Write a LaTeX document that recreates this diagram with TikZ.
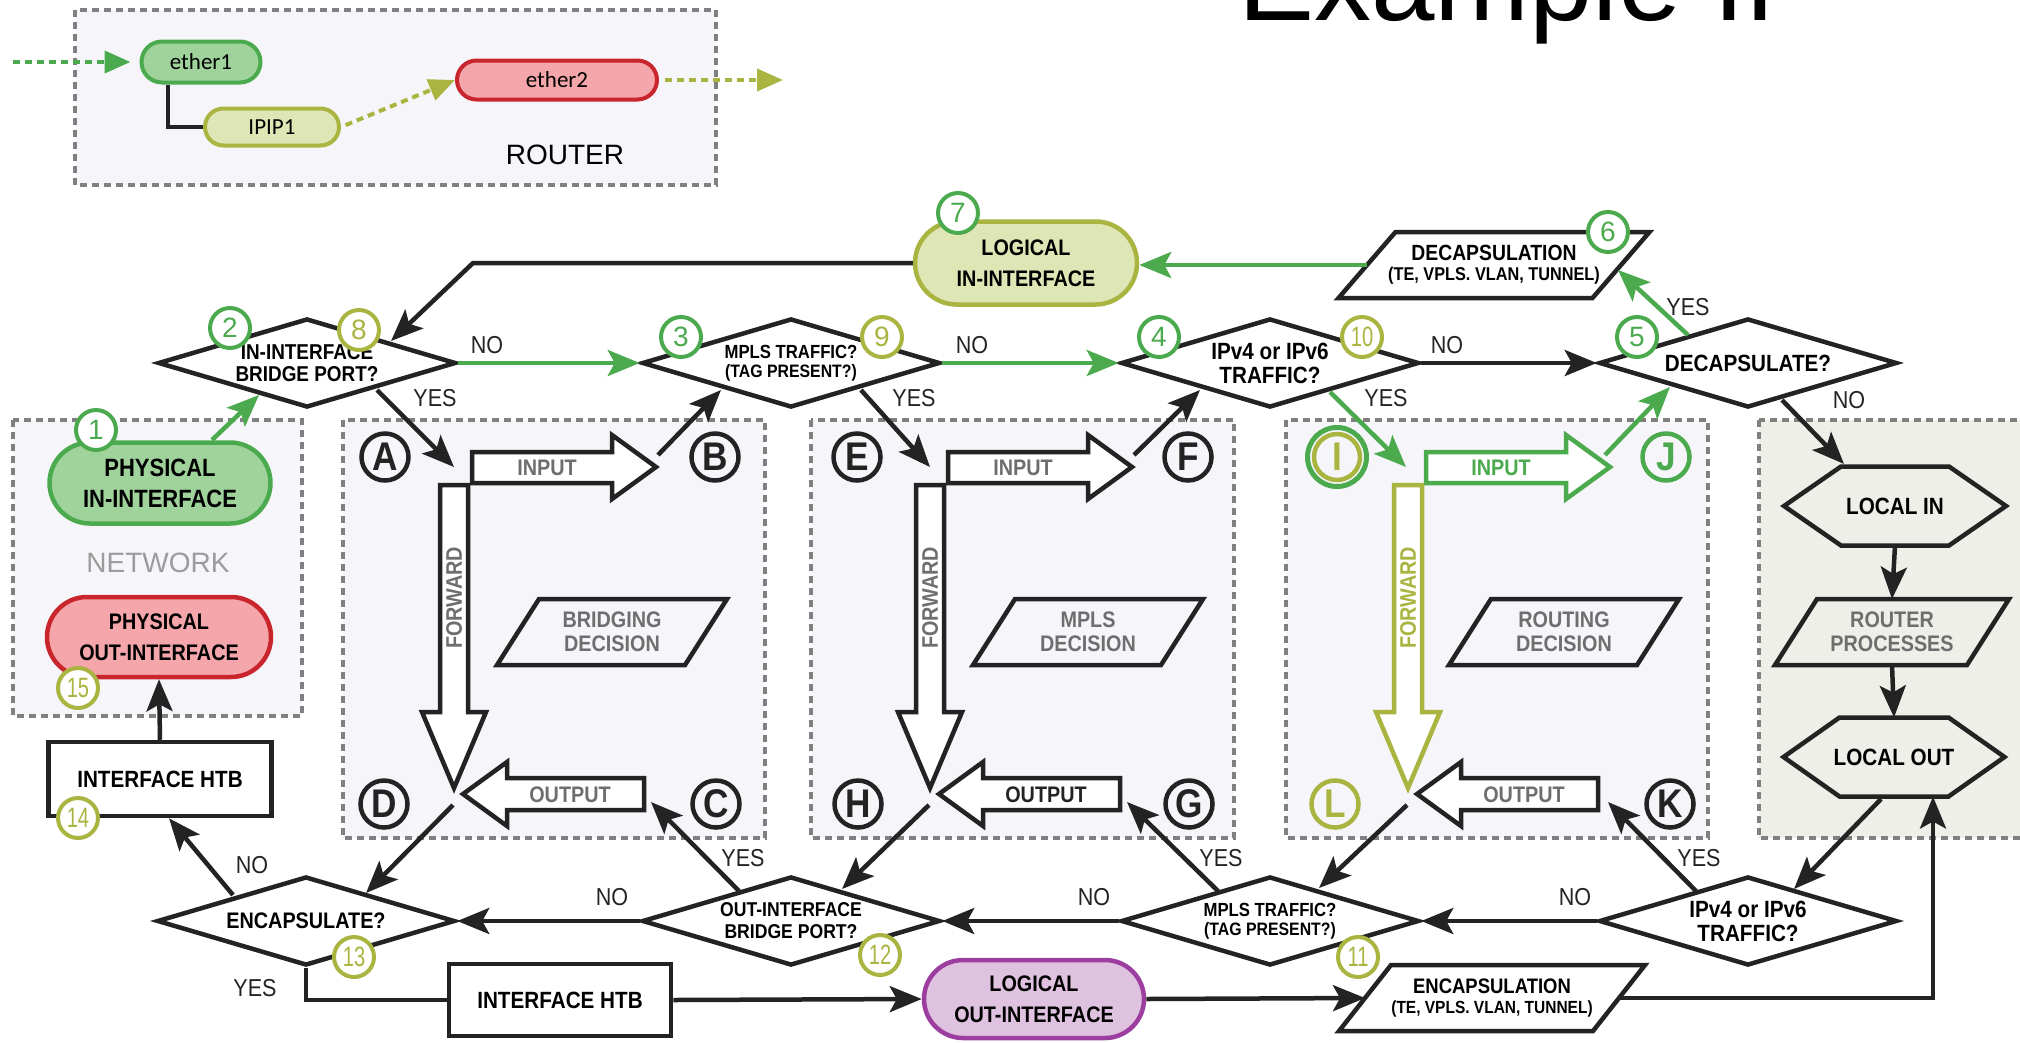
\documentclass[tikz,border=0pt]{standalone}
\usepackage{fontspec}
\setmainfont{Liberation Sans}[FakeStretch=0.88]
\newfontfamily\widefont{Liberation Sans}
\newfontfamily\legendfont{Carlito}
\usetikzlibrary{arrows.meta,calc,shapes.geometric,shapes.misc}

\definecolor{ink}{RGB}{35,35,35}
\definecolor{flowgreen}{RGB}{76,170,78}
\definecolor{flowolive}{RGB}{170,180,64}
\definecolor{greenfill}{RGB}{160,211,156}
\definecolor{olivefill}{RGB}{223,230,182}
\definecolor{redline}{RGB}{200,37,44}
\definecolor{redfill}{RGB}{244,166,170}
\definecolor{purpleline}{RGB}{156,62,160}
\definecolor{purplefill}{RGB}{222,194,223}
\definecolor{panelfill}{RGB}{246,246,250}
\definecolor{localfill}{RGB}{238,239,233}
\definecolor{dashgrey}{RGB}{128,128,128}
\definecolor{labelgrey}{RGB}{110,110,110}
\definecolor{netgrey}{RGB}{155,155,155}

\tikzset{
  inkline/.style={line width=4.5pt, draw=ink},
  flow/.style={line width=4.5pt, draw=ink, -{Stealth[length=32pt,width=26pt,inset=7pt]}},
  gflow/.style={flow, draw=flowgreen},
  gdot/.style={line width=4pt, draw=flowgreen, dash pattern=on 7pt off 5pt, -{Triangle[length=26pt,width=22pt]}},
  odot/.style={line width=4pt, draw=flowolive, dash pattern=on 7pt off 5pt, -{Triangle[length=26pt,width=22pt]}},
  panel/.style={line width=4pt, draw=dashgrey, dash pattern=on 7pt off 5pt, fill=panelfill},
  dia/.style={diamond, aspect=3.3, draw=ink, line width=4.5pt, fill=white,
    minimum width=298pt, minimum height=89pt, inner sep=0pt, align=center,
    font=\bfseries\fontsize{21.5}{22}\selectfont},
  pill/.style={rounded rectangle, line width=4.5pt, align=center, inner sep=0pt,
    font=\bfseries\fontsize{22.5}{31}\selectfont},
  boxnode/.style={rectangle, draw=ink, line width=4.5pt, fill=white, inner sep=0pt,
    font=\bfseries\fontsize{23.5}{23.5}\selectfont},
  helper/.style={rectangle, inner sep=0pt, outer sep=0pt, align=center},
  blockarrow/.style={line width=4.5pt, draw=#1, fill=white, line join=miter},
  blockarrow/.default=ink,
  arrowtext/.style={font=\bfseries\fontsize{22.5}{22.5}\selectfont},
  dectext/.style={helper, text=labelgrey, font=\bfseries\fontsize{22.5}{24}\selectfont},
  lbadge/.style={circle, draw=#1, text=#1, line width=4.5pt, minimum size=47pt,
    inner sep=0pt, font=\bfseries\fontsize{40}{40}\selectfont},
  nbadge/.style={circle, draw=#1, text=#1, fill=white, line width=4pt,
    minimum size=40pt, inner sep=0pt, font=\widefont\fontsize{28}{28}\selectfont},
  yn/.style={font=\fontsize{24.5}{24.5}\selectfont, text=ink, inner sep=0pt},
}

% slanted box around a helper node: #1 node name, #2 slant
\newcommand\drawpgram[2]{\draw[line width=4.5pt, draw=ink]
  ($(#1.north west)+(#2/2,0)$) -- ($(#1.north east)+(#2/2,0)$) --
  ($(#1.south east)+(-#2/2,0)$) -- ($(#1.south west)+(-#2/2,0)$) -- cycle;}
% hexagon around a helper node: #1 node name, #2 corner inset
\newcommand\drawhex[2]{\draw[line width=4.5pt, draw=ink]
  (#1.west) -- ($(#1.north west)+(#2,0)$) -- ($(#1.north east)+(-#2,0)$) --
  (#1.east) -- ($(#1.south east)+(-#2,0)$) -- ($(#1.south west)+(#2,0)$) -- cycle;}

\begin{document}
\begin{tikzpicture}[x=1pt,y=-1pt]
\useasboundingbox (0,0) rectangle (2020,1042);
\clip (0,0) rectangle (2020,1042);

% ---------- title ----------
\node[anchor=base west, inner sep=0pt, font=\widefont\fontsize{114}{114}\selectfont] (title) at (1238,20) {Example II};

% ---------- legend ----------
\draw[panel] (75,10) rectangle (716,185);
\node[pill, draw=flowgreen, fill=greenfill, minimum width=119pt, minimum height=41pt, line width=4pt,
  font=\legendfont\fontsize{23}{23}\selectfont] (ether1) at (201,62) {ether1};
\node[pill, draw=flowolive, fill=olivefill, minimum width=134pt, minimum height=37pt, line width=4pt,
  font=\legendfont\fontsize{23}{23}\selectfont] (ipip) at (272,127) {IPIP1};
\node[pill, draw=redline, fill=redfill, minimum width=200pt, minimum height=39pt, line width=4pt,
  font=\legendfont\fontsize{23}{23}\selectfont] (ether2) at (557,80) {ether2};
\node[font=\widefont\fontsize{28}{28}\selectfont] (routerlbl) at (565,155) {ROUTER};
\coordinate (lgin) at (13,62);
\coordinate (lgout) at (783,80);
\draw[gdot, shorten >=9pt] (lgin) -- (ether1.west);
\draw[inkline, line width=4pt] ($(ether1.south)+(-33,0)$) |- (ipip.west);
\draw[odot, shorten <=5pt] (ipip.east) -- (ether2.west);
\draw[odot, shorten <=6pt] (ether2.east) -- (lgout);

% ---------- dashed regions ----------
\draw[panel] (13,420) rectangle (302,716);
\draw[panel] (343,420) rectangle (765,838);
\draw[panel] (811,420) rectangle (1234,838);
\draw[panel] (1286,420) rectangle (1708,838);
\draw[panel, fill=localfill] (1759,420) rectangle (2040,838);
\node[font=\widefont\fontsize{28}{28}\selectfont, text=netgrey] (netlbl) at (158,563) {NETWORK};

% ---------- bridging region ----------
\draw[blockarrow] (472,452) -- (612,452) -- (612,435) -- (656,467) -- (612,499) -- (612,483) -- (472,483) -- cycle;
\node[arrowtext, text=labelgrey] (inA) at (547,468) {INPUT};
\draw[blockarrow] (440,485) -- (468,485) -- (468,712) -- (486,712) -- (454,788) -- (422,712) -- (440,712) -- cycle;
\node[arrowtext, text=labelgrey, rotate=90] (fwA) at (454,598) {FORWARD};
\draw[blockarrow] (644,778) -- (507,778) -- (507,762) -- (463,794) -- (507,826) -- (507,810) -- (644,810) -- cycle;
\node[arrowtext, text=labelgrey] (outA) at (570,795) {OUTPUT};
\node[dectext, minimum width=188pt, minimum height=66pt] (bdec) at (612,632) {BRIDGING\\DECISION};
\drawpgram{bdec}{42}
\coordinate (ptA) at (454,467);
\coordinate (ptB) at (658,455);
\coordinate (ptD) at (453,805);
\coordinate (ptC) at (651,802);
\node[lbadge=ink] (bA) at (385,457) {A};
\node[lbadge=ink] (bB) at (715,457) {B};
\node[lbadge=ink] (bD) at (384,804) {D};
\node[lbadge=ink] (bC) at (716,804) {C};

% ---------- MPLS region ----------
\begin{scope}[shift={(476,0)}]
\draw[blockarrow] (472,452) -- (612,452) -- (612,435) -- (656,467) -- (612,499) -- (612,483) -- (472,483) -- cycle;
\node[arrowtext, text=labelgrey] (inM) at (547,468) {INPUT};
\draw[blockarrow] (440,485) -- (468,485) -- (468,712) -- (486,712) -- (454,788) -- (422,712) -- (440,712) -- cycle;
\node[arrowtext, text=labelgrey, rotate=90] (fwM) at (454,598) {FORWARD};
\draw[blockarrow] (644,778) -- (507,778) -- (507,762) -- (463,794) -- (507,826) -- (507,810) -- (644,810) -- cycle;
\node[arrowtext, text=ink] (outM) at (570,795) {OUTPUT};
\node[dectext, minimum width=188pt, minimum height=66pt] (mdec) at (612,632) {MPLS\\DECISION};
\drawpgram{mdec}{42}
\coordinate (ptE) at (454,467);
\coordinate (ptF) at (658,455);
\coordinate (ptH) at (453,805);
\coordinate (ptG) at (651,802);
\end{scope}
\node[lbadge=ink] (bE) at (857,457) {E};
\node[lbadge=ink] (bF) at (1188,457) {F};
\node[lbadge=ink] (bH) at (858,804) {H};
\node[lbadge=ink] (bG) at (1189,804) {G};

% ---------- routing region ----------
\begin{scope}[shift={(954,0)}]
\draw[blockarrow=flowgreen] (472,452) -- (612,452) -- (612,435) -- (656,467) -- (612,499) -- (612,483) -- (472,483) -- cycle;
\node[arrowtext, text=flowgreen] (inR) at (547,468) {INPUT};
\draw[blockarrow=flowolive] (440,485) -- (468,485) -- (468,712) -- (486,712) -- (454,788) -- (422,712) -- (440,712) -- cycle;
\node[arrowtext, text=flowolive, rotate=90] (fwR) at (454,598) {FORWARD};
\draw[blockarrow] (644,778) -- (507,778) -- (507,762) -- (463,794) -- (507,826) -- (507,810) -- (644,810) -- cycle;
\node[arrowtext, text=labelgrey] (outR) at (570,795) {OUTPUT};
\node[dectext, minimum width=188pt, minimum height=66pt] (rdec) at (610,632) {ROUTING\\DECISION};
\drawpgram{rdec}{42}
\coordinate (ptI) at (452,467);
\coordinate (ptJ) at (651,455);
\coordinate (ptL) at (453,805);
\coordinate (ptK) at (654,802);
\end{scope}
\node[circle, draw=flowgreen, line width=5pt, minimum size=59pt, inner sep=0pt] (bIring) at (1337,457) {};
\node[lbadge=flowolive, minimum size=46pt] (bI) at (1337,457) {I};
\node[lbadge=flowgreen] (bJ) at (1666,457) {J};
\node[lbadge=flowolive] (bL) at (1335,804) {L};
\node[lbadge=ink] (bK) at (1670,804) {K};

% ---------- local process column ----------
\node[helper, minimum width=222pt, minimum height=79pt, font=\bfseries\fontsize{23.5}{23.5}\selectfont] (localin) at (1895,506) {LOCAL IN};
\drawhex{localin}{57}
\node[dectext, minimum width=192pt, minimum height=66pt] (routerproc) at (1892,632) {ROUTER\\PROCESSES};
\drawpgram{routerproc}{42}
\node[helper, minimum width=221pt, minimum height=79pt, font=\bfseries\fontsize{23.5}{23.5}\selectfont] (localout) at (1894,757) {LOCAL OUT};
\drawhex{localout}{56}

% ---------- network interfaces ----------
\node[pill, draw=flowgreen, fill=greenfill, minimum width=221pt, minimum height=81pt,
  font=\bfseries\fontsize{25}{31}\selectfont] (phyin) at (160,483) {PHYSICAL\\IN-INTERFACE};
\node[pill, draw=redline, fill=redfill, minimum width=224pt, minimum height=80pt] (phyout) at (159,637) {PHYSICAL\\OUT-INTERFACE};
\node[boxnode, minimum width=223pt, minimum height=74pt] (htbL) at (160,779) {INTERFACE HTB};
\node[boxnode, minimum width=222pt, minimum height=72pt] (htbB) at (560,1000) {INTERFACE HTB};
\node[pill, draw=flowolive, fill=olivefill, minimum width=222pt, minimum height=83pt] (logicin) at (1026,263) {LOGICAL\\IN-INTERFACE};
\node[pill, draw=purpleline, fill=purplefill, minimum width=220pt, minimum height=78pt] (logout) at (1034,999) {LOGICAL\\OUT-INTERFACE};

\node[helper, minimum width=254pt, minimum height=66pt, font=\bfseries\fontsize{22}{23}\selectfont] (decap) at (1494,265)
  {DECAPSULATION\\[-3pt]{\fontsize{18.5}{19}\selectfont(TE, VPLS. VLAN, TUNNEL)}};
\drawpgram{decap}{57}
\node[helper, minimum width=254pt, minimum height=66pt, font=\bfseries\fontsize{21}{23}\selectfont] (encap) at (1492,998)
  {ENCAPSULATION\\[-3pt]{\fontsize{17.6}{19}\selectfont(TE, VPLS. VLAN, TUNNEL)}};
\drawpgram{encap}{52}

% ---------- decisions ----------
\node[dia] (d2) at (307,363) {IN-INTERFACE\\BRIDGE PORT?};
\node[dia, font=\bfseries\fontsize{19}{19}\selectfont] (d3) at (791,363) {MPLS TRAFFIC?\\{\fontsize{18}{19}\selectfont(TAG PRESENT?)}};
\node[dia, font=\bfseries\fontsize{23.5}{24}\selectfont] (d4) at (1270,363) {IPv4 or IPv6\\TRAFFIC?};
\node[dia, font=\bfseries\fontsize{23.5}{24}\selectfont] (d5) at (1748,363) {DECAPSULATE?};
\node[dia, font=\bfseries\fontsize{22.5}{23}\selectfont] (e13) at (306,921) {ENCAPSULATE?};
\node[dia, font=\bfseries\fontsize{20}{22}\selectfont] (e12) at (791,921) {OUT-INTERFACE\\BRIDGE PORT?};
\node[dia, font=\bfseries\fontsize{19}{19}\selectfont] (e11) at (1270,921) {MPLS TRAFFIC?\\{\fontsize{18}{19}\selectfont(TAG PRESENT?)}};
\node[dia, font=\bfseries\fontsize{23.5}{24}\selectfont] (e10) at (1748,921) {IPv4 or IPv6\\TRAFFIC?};

% ---------- connectors: receive side ----------
\draw[gflow] ($(phyin)+(52,-43)$) -- ($(d2)+(-48,32)$);
\draw[gflow] (d2.east) -- (d3.west);
\draw[gflow] (d3.east) -- (d4.west);
\draw[flow] (d4.east) -- (d5.west);
\draw[flow] ($(d2)+(70,27)$) -- (ptA);
\draw[flow] (ptB) -- ($(d3)+(-70,27)$);
\draw[flow] ($(d3)+(70,27)$) -- (ptE);
\draw[flow] (ptF) -- ($(d4)+(-70,27)$);
\draw[gflow] ($(d4)+(60,29)$) -- (ptI);
\draw[gflow] (ptJ) -- ($(d5)+(-78,24)$);
\draw[gflow] ($(d5)+(-60,-28)$) -- ($(decap.east)+(-3,5)$);
\draw[gflow] (decap.west) -- (decap.west -| logicin.east);
\coordinate (bend1) at (473,0);
\draw[flow] (logicin.west) -- (logicin.west -| bend1) -- ($(d2)+(84,-22)$);
\draw[flow] ($(d5)+(34,37)$) -- ($(localin)+(-51,-42)$);
\draw[flow] (localin.south) -- (routerproc.north);
\draw[flow] (routerproc.south) -- (localout.north);

% ---------- connectors: send side ----------
\draw[flow] ($(localout)+(-13,42)$) -- ($(e10)+(46,-32)$);
\draw[flow] (e10.west) -- (e11.east);
\draw[flow] (e11.west) -- (e12.east);
\draw[flow] (e12.west) -- (e13.east);
\draw[flow] ($(e10)+(-52,-30)$) -- (ptK);
\draw[flow] (ptL) -- ($(e11)+(49,-33)$);
\draw[flow] ($(e11)+(-52,-30)$) -- (ptG);
\draw[flow] (ptH) -- ($(e12)+(51,-32)$);
\draw[flow] ($(e12)+(-52,-30)$) -- (ptC);
\draw[flow] (ptD) -- ($(e13)+(60,-28)$);
\draw[flow] ($(e13)+(-73,-26)$) -- ($(htbL.south)+(9,0)$);
\draw[flow] (htbL.north) -- (phyout.south);
\draw[inkline] (e13.south) |- (htbB.west);
\draw[flow] (htbB.east) -- (logout.west);
\draw[flow] (logout.east) -- (encap.west);
\draw[flow] (encap.east) -| ($(localout.south)+(39,0)$);

% ---------- branch labels ----------
\node[yn] (l1) at (487,345) {NO};
\node[yn] (l2) at (435,398) {YES};
\node[yn] (l3) at (972,345) {NO};
\node[yn] (l4) at (914,398) {YES};
\node[yn] (l5) at (1447,345) {NO};
\node[yn] (l6) at (1386,398) {YES};
\node[yn] (l7) at (1688,307) {YES};
\node[yn] (l8) at (1849,400) {NO};
\node[yn] (l9) at (1575,897) {NO};
\node[yn] (l10) at (1699,858) {YES};
\node[yn] (l11) at (1094,897) {NO};
\node[yn] (l12) at (1221,858) {YES};
\node[yn] (l13) at (612,897) {NO};
\node[yn] (l14) at (743,858) {YES};
\node[yn] (l15) at (252,865) {NO};
\node[yn] (l16) at (255,988) {YES};

% ---------- step numbers ----------
\node[nbadge=flowgreen] (n1) at (96,430) {1};
\node[nbadge=flowgreen] (n2) at (230,328) {2};
\node[nbadge=flowgreen] (n3) at (681,337) {3};
\node[nbadge=flowgreen] (n4) at (1159,337) {4};
\node[nbadge=flowgreen] (n5) at (1637,337) {5};
\node[nbadge=flowgreen] (n6) at (1608,232) {6};
\node[nbadge=flowgreen] (n7) at (958,213) {7};
\node[nbadge=flowolive] (n8) at (359,330) {8};
\node[nbadge=flowolive] (n9) at (882,337) {9};
\node[nbadge=flowolive] (n10) at (1362,337) {\scalebox{0.72}[1]{10}};
\node[nbadge=flowolive] (n11) at (1358,957) {\scalebox{0.72}[1]{11}};
\node[nbadge=flowolive] (n12) at (880,955) {\scalebox{0.72}[1]{12}};
\node[nbadge=flowolive] (n13) at (354,957) {\scalebox{0.72}[1]{13}};
\node[nbadge=flowolive] (n14) at (78,818) {\scalebox{0.72}[1]{14}};
\node[nbadge=flowolive] (n15) at (78,688) {\scalebox{0.72}[1]{15}};
\end{tikzpicture}
\end{document}
